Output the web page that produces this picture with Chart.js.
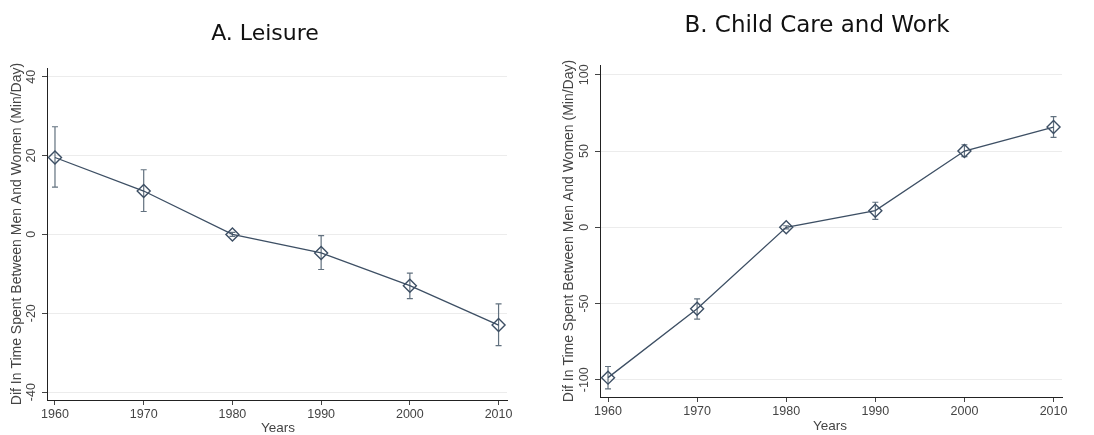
<!DOCTYPE html>
<html>
<head>
<meta charset="utf-8">
<script src="https://cdn.jsdelivr.net/npm/chart.js@4/dist/chart.umd.min.js"></script>
<style>
  body { margin: 0; background: #fff; }
  .wrap { display: flex; width: 1094px; height: 435px; }
  .panel { width: 547px; height: 435px; }
</style>
</head>
<body>
<div class="wrap">
  <div class="panel"><canvas id="leisure" width="547" height="435"></canvas></div>
  <div class="panel"><canvas id="childWork" width="547" height="435"></canvas></div>
</div>
<script>
const years = [1960, 1970, 1980, 1990, 2000, 2010]

const leisure = [19.5, 11, 0, -4.7, -13, -23]
const leisureLo = [12, 5.8, -0.5, -8.9, -16.3, -28.2]
const leisureHi = [27.3, 16.4, 0.5, -0.3, -9.8, -17.6]
const leisureTicks = [-40, -20, 0, 20, 40]

const childWork = [-98.6, -53.5, 0, 10.9, 50, 65.7]
const childWorkLo = [-106, -60.3, -1, 5.2, 46.3, 59]
const childWorkHi = [-91.3, -47, 1, 16.4, 54.1, 72.5]
const childWorkTicks = [-100, -50, 0, 50, 100]

const yAxisTitle = "Dif In Time Spent Between Men And Women (Min/Day)"
const lineColor = '#3d4f64'

// draws titles, rotated y tick labels, axis titles and error bars
const panelText = {
    id: 'panelText',
    beforeDatasetsDraw(chart, args, opts) {
        const ctx = chart.ctx
        const y = chart.scales.y
        const x = chart.scales.x
        ctx.save()
        ctx.strokeStyle = '#62717f'
        ctx.lineWidth = 1.2
        opts.lo.forEach((lo, i) => {
            const px = x.getPixelForValue(years[i])
            const y1 = y.getPixelForValue(lo)
            const y2 = y.getPixelForValue(opts.hi[i])
            if (Math.abs(y1 - y2) < 3) return
            ctx.beginPath()
            ctx.moveTo(px, y1); ctx.lineTo(px, y2)
            ctx.moveTo(px - 3, y1); ctx.lineTo(px + 3, y1)
            ctx.moveTo(px - 3, y2); ctx.lineTo(px + 3, y2)
            ctx.stroke()
        })
        ctx.restore()
    },
    afterDraw(chart, args, opts) {
        const ctx = chart.ctx
        const y = chart.scales.y
        const area = chart.chartArea
        ctx.save()
        ctx.fillStyle = '#111'
        ctx.textAlign = 'center'
        ctx.textBaseline = 'alphabetic'
        ctx.font = opts.titleSize + 'px "DejaVu Sans"'
        ctx.fillText(opts.title, opts.titleX, opts.titleY)

        ctx.fillStyle = '#444'
        ctx.font = '12.5px "Liberation Sans"'
        ctx.textBaseline = 'middle'
        opts.ticks.forEach(t => {
            const py = y.getPixelForValue(t)
            ctx.save()
            ctx.translate(opts.tickX, py)
            ctx.rotate(-Math.PI / 2)
            ctx.fillText(String(t), 0, 0)
            ctx.restore()
        })

        ctx.font = '14px "Liberation Sans"'
        ctx.save()
        ctx.translate(opts.yTitleX, (area.top + area.bottom) / 2)
        ctx.rotate(-Math.PI / 2)
        ctx.fillText(yAxisTitle, 0, 0)
        ctx.restore()

        ctx.font = '13.5px "Liberation Sans"'
        ctx.fillText('Years', opts.xTitleX, opts.xTitleY)
        ctx.restore()
    }
}

function makeChart(id, values, lo, hi, ticks, yMin, yMax, o) {
    return new Chart(document.getElementById(id), {
        type: 'line',
        data: {
            datasets: [{
                data: years.map((yr, i) => ({ x: yr, y: values[i] })),
                borderColor: lineColor,
                borderWidth: 1.3,
                pointStyle: 'rectRot',
                pointRadius: 6.5,
                pointBorderWidth: 1.4,
                pointBorderColor: lineColor,
                pointBackgroundColor: 'rgba(0,0,0,0)',
                tension: 0,
                clip: false
            }]
        },
        options: {
            responsive: false,
            animation: false,
            layout: { padding: { top: o.top, right: o.right, left: 0, bottom: 0 } },
            plugins: {
                legend: { display: false },
                tooltip: { enabled: false },
                panelText: {
                    lo: lo, hi: hi, ticks: ticks,
                    title: o.title, titleSize: o.titleSize, titleX: o.titleX, titleY: o.titleY,
                    tickX: o.tickX, yTitleX: o.yTitleX, xTitleX: o.xTitleX, xTitleY: o.xTitleY
                }
            },
            scales: {
                x: {
                    type: 'linear',
                    min: 1959.1,
                    max: 2010.95,
                    afterBuildTicks: s => { s.ticks = years.map(v => ({ value: v })) },
                    afterFit: s => { s.height = o.bottom },
                    grid: { drawOnChartArea: false, drawTicks: true, tickLength: 5, tickColor: '#444' },
                    border: { color: '#222', width: 1 },
                    ticks: {
                        color: '#444',
                        font: { family: 'Liberation Sans', size: 12.5 },
                        padding: 2,
                        maxRotation: 0,
                        callback: v => String(v)
                    }
                },
                y: {
                    min: yMin,
                    max: yMax,
                    afterBuildTicks: s => { s.ticks = ticks.map(v => ({ value: v })) },
                    afterFit: s => { s.width = o.left },
                    grid: { color: '#ececec', drawTicks: true, tickLength: 5, tickColor: '#444' },
                    border: { color: '#222', width: 1 },
                    ticks: { display: false }
                }
            }
        },
        plugins: [panelText]
    })
}

makeChart('leisure', leisure, leisureLo, leisureHi, leisureTicks, -42, 42.2, {
    top: 68, right: 40, left: 47, bottom: 35,
    title: 'A. Leisure', titleSize: 22, titleX: 265, titleY: 40,
    tickX: 32, yTitleX: 17, xTitleX: 278, xTitleY: 428
})

makeChart('childWork', childWork, childWorkLo, childWorkHi, childWorkTicks, -111.3, 106.4, {
    top: 65, right: 32, left: 53, bottom: 38,
    title: 'B. Child Care and Work', titleSize: 23, titleX: 270, titleY: 32,
    tickX: 38, yTitleX: 22, xTitleX: 283, xTitleY: 426
})
</script>
</body>
</html>
